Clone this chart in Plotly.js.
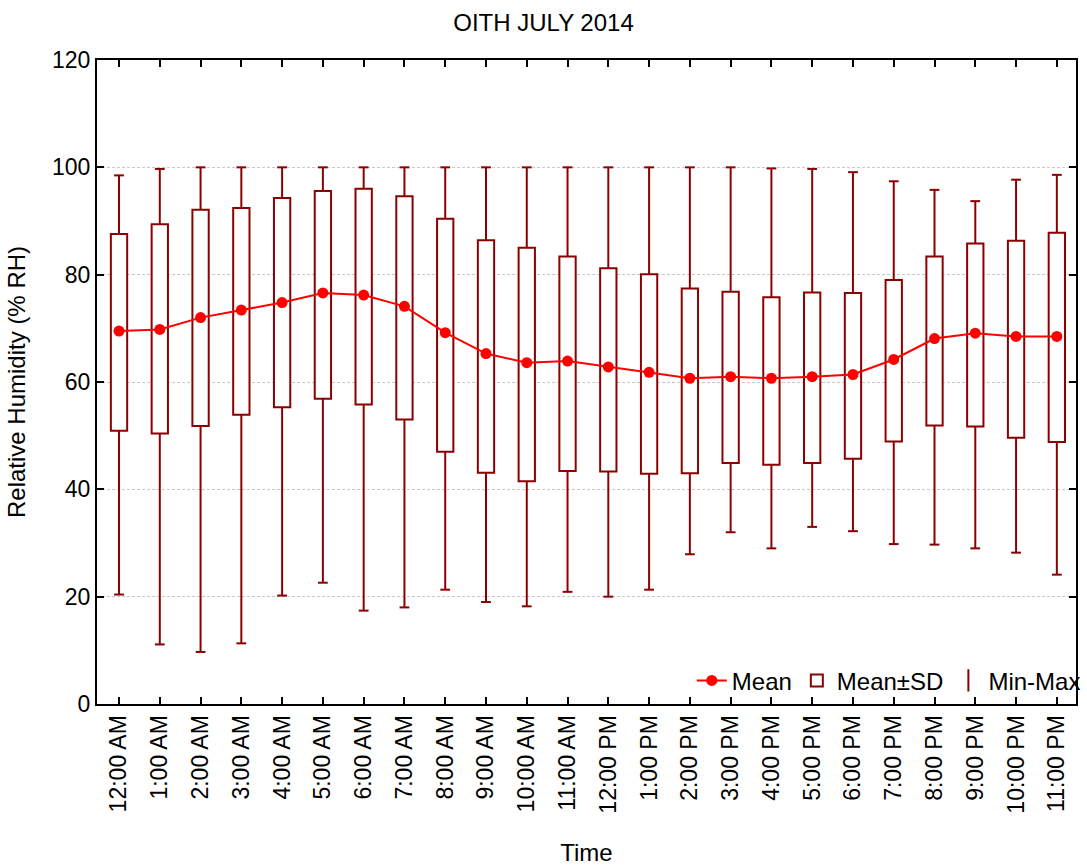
<!DOCTYPE html>
<html>
<head>
<meta charset="utf-8">
<script src="https://cdn.plot.ly/plotly-3.0.1.min.js"></script>
<style>html,body{margin:0;padding:0;background:#fff;}#chart{width:1087px;height:867px;}</style>
</head>
<body>
<div id="chart"></div>
<script>
const timeLabels = ["12:00 AM","1:00 AM","2:00 AM","3:00 AM","4:00 AM","5:00 AM","6:00 AM","7:00 AM","8:00 AM","9:00 AM","10:00 AM","11:00 AM","12:00 PM","1:00 PM","2:00 PM","3:00 PM","4:00 PM","5:00 PM","6:00 PM","7:00 PM","8:00 PM","9:00 PM","10:00 PM","11:00 PM"];
const meanRH  = [69.5,69.8,72.0,73.4,74.8,76.6,76.2,74.1,69.2,65.3,63.6,63.9,62.8,61.8,60.7,61.0,60.7,61.0,61.4,64.2,68.1,69.1,68.5,68.5];
const sdUpper = [87.6,89.4,92.1,92.4,94.3,95.6,96.0,94.6,90.4,86.4,85.0,83.4,81.2,80.1,77.4,76.8,75.8,76.7,76.6,79.0,83.4,85.8,86.3,87.8];
const sdLower = [50.9,50.4,51.8,53.9,55.3,56.9,55.8,53.0,47.0,43.1,41.5,43.4,43.3,42.9,43.0,44.9,44.6,44.9,45.7,48.9,51.9,51.7,49.6,48.8];
const maxRH   = [98.5,99.7,100,100,100,100,100,100,100,100,100,100,100,100,100,100,99.8,99.7,99.1,97.4,95.8,93.7,97.7,98.6];
const minRH   = [20.4,11.1,9.7,11.3,20.2,22.6,17.4,18.0,21.3,19.0,18.2,20.9,20.0,21.3,27.9,32.0,29.0,33.0,32.2,29.8,29.7,29.0,28.2,24.1];

const idx = timeLabels.map((_, i) => i);
const boxColor = '#8B0000';
const capHalf = 0.12;

// whisker segments built from data arrays
const wx = [], wy = [];
idx.forEach(i => {
  wx.push(i, i, null, i - capHalf, i + capHalf, null);
  wy.push(sdUpper[i], maxRH[i], null, maxRH[i], maxRH[i], null);
  wx.push(i, i, null, i - capHalf, i + capHalf, null);
  wy.push(sdLower[i], minRH[i], null, minRH[i], minRH[i], null);
});

const traces = [
  {
    type: 'scatter', mode: 'lines+markers', name: 'Mean',
    x: idx, y: meanRH,
    line: {color: '#FF0000', width: 2},
    marker: {color: '#FF0000', size: 11},
    hoverinfo: 'skip'
  },
  {
    type: 'bar', name: 'Mean±SD',
    x: idx, base: sdLower, y: sdUpper.map((u, i) => u - sdLower[i]),
    width: 0.4,
    marker: {color: '#FFFFFF', line: {color: boxColor, width: 2}},
    hoverinfo: 'skip'
  },
  {
    type: 'scatter', mode: 'markers', name: 'Min-Max',
    x: [null], y: [null],
    marker: {symbol: 'line-ns-open', size: 24, color: boxColor, line: {color: boxColor, width: 2}},
    hoverinfo: 'skip'
  },
  {
    type: 'scatter', mode: 'lines', name: 'whiskers', showlegend: false,
    x: wx, y: wy,
    line: {color: boxColor, width: 2},
    hoverinfo: 'skip'
  }
];

const font = 'Liberation Sans, Arial, sans-serif';
const layout = {
  width: 1087, height: 867,
  margin: {l: 97, r: 11, t: 60, b: 163, autoexpand: false},
  paper_bgcolor: '#FFFFFF', plot_bgcolor: '#FFFFFF',
  font: {family: font, size: 23, color: '#000'},
  title: {text: 'OITH JULY 2014', x: 0.5, xanchor: 'center', y: 0.974, yanchor: 'middle', font: {family: font, size: 24, color: '#000'}},
  showlegend: true,
  legend: {orientation: 'h', x: 1.01, xanchor: 'right', y: 0.036, yanchor: 'middle',
           bgcolor: 'rgba(0,0,0,0)', font: {family: font, size: 24, color: '#000'},
           traceorder: 'normal', itemwidth: 30},
  bargap: 0,
  xaxis: {
    range: [-0.54, 23.47],
    tickmode: 'array', tickvals: idx, ticktext: timeLabels, tickangle: -90,
    ticks: 'inside', ticklen: 7, tickwidth: 2, tickcolor: '#000',
    showline: true, linecolor: '#000', linewidth: 2, mirror: 'ticks',
    showgrid: false, zeroline: false,
    tickfont: {family: font, size: 23, color: '#000'},
    title: {text: 'Time', font: {family: font, size: 24, color: '#000'}, standoff: 32}
  },
  yaxis: {
    range: [0, 120], tickmode: 'array', tickvals: [0,20,40,60,80,100,120],
    ticks: 'inside', ticklen: 7, tickwidth: 2, tickcolor: '#000',
    showline: true, linecolor: '#000', linewidth: 2, mirror: 'ticks',
    showgrid: true, gridcolor: '#C8C8C8', gridwidth: 1, griddash: '3px,2px',
    zeroline: false,
    tickfont: {family: font, size: 23, color: '#000'},
    title: {text: 'Relative Humidity (% RH)', font: {family: font, size: 24, color: '#000'}, standoff: 20}
  }
};

Plotly.newPlot('chart', traces, layout, {displayModeBar: false, staticPlot: true});
</script>
</body>
</html>
